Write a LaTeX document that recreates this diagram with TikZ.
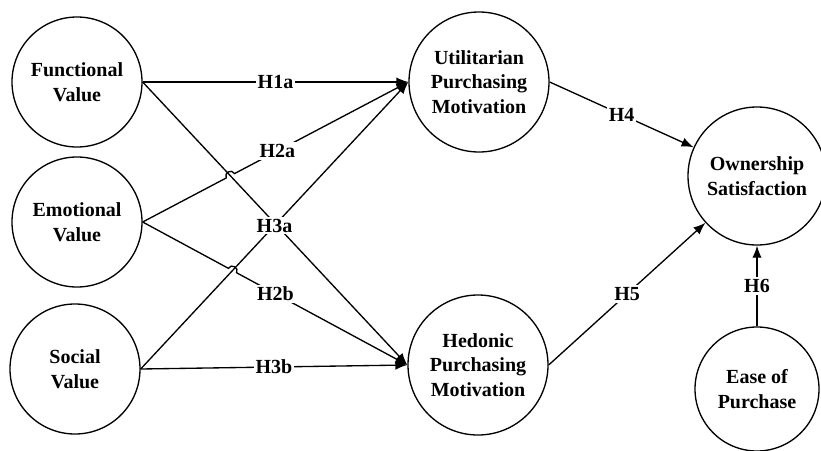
\documentclass[tikz,border=0pt]{standalone}
\usepackage{fontspec}
\setmainfont{Liberation Serif}
\usetikzlibrary{arrows.meta,calc,intersections}

\begin{document}
\begin{tikzpicture}[x=0.75pt,y=-0.75pt,
  every node/.style={font=\fontsize{15}{18.5}\selectfont\bfseries},
  construct/.style={draw,line width=1pt,circle,align=center,inner sep=0pt},
  link/.style={-{Latex[length=9pt,width=7pt]},line width=1pt},
  hyp/.style={fill=white,inner sep=1.5pt},
  hop/.style={bend left=90,looseness=1.6}]
\useasboundingbox (0,0) rectangle (821,450);
% value constructs
\node[construct,minimum size=97.5pt] (fun) at (77,82) {Functional\\Value};
\node[construct,minimum size=97.5pt] (emo) at (77,222) {Emotional\\Value};
\node[construct,minimum size=97.5pt] (soc) at (75,369) {Social\\Value};
% motivations
\node[construct,minimum size=105pt] (utl) at (479,82) {Utilitarian\\Purchasing\\Motivation};
\node[construct,minimum size=105pt] (hed) at (478,365) {Hedonic\\Purchasing\\Motivation};
% outcome
\node[construct,minimum size=103.5pt] (own) at (757,176) {Ownership\\Satisfaction};
\node[construct,minimum size=93pt] (ease) at (757,389) {Ease of\\Purchase};
% crossings for the hops
\path[name path=fh] (fun.east) -- (hed.west);
\path[name path=su] (soc.east) -- (utl.west);
\path[name path=eu] (emo.east) -- (utl.west);
\path[name path=eh] (emo.east) -- (hed.west);
\path[name intersections={of=fh and eu,by=xa}];
\path[name intersections={of=su and eh,by=xb}];
% links
\draw[link] (fun.east) -- (utl.west) node[hyp,midway] {H1a};
\draw[link] (fun.east) -- (hed.west);
\draw[link] (soc.east) -- (utl.west) node[hyp,midway] {H3a};
\draw[link] (emo.east) -- ($(xa)!3.5pt!(emo.east)$) to[hop] ($(xa)!3.5pt!(utl.west)$)
  -- node[hyp,pos=.247] {H2a} (utl.west);
\draw[link] (emo.east) -- ($(xb)!3.5pt!(emo.east)$) to[hop] ($(xb)!3.5pt!(hed.west)$)
  -- node[hyp,pos=.227] {H2b} (hed.west);
\draw[link] (soc.east) -- (hed.west) node[hyp,midway] {H3b};
\draw[link] (utl.east) -- (own) node[hyp,midway] {H4};
\draw[link] (hed.east) -- (own) node[hyp,midway] {H5};
\draw[link] (ease.north) -- (own.south) node[hyp,midway] {H6};
\end{tikzpicture}
\end{document}
